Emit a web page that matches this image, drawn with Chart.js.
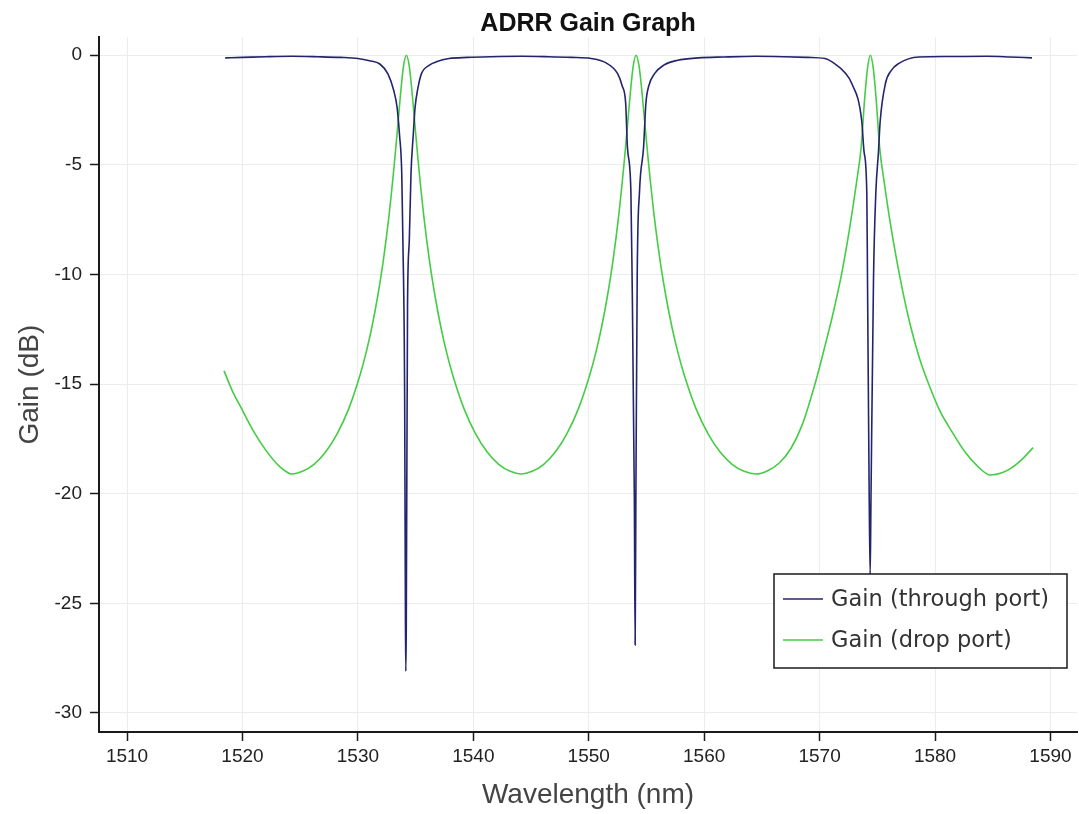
<!DOCTYPE html>
<html>
<head>
<meta charset="utf-8">
<script src="https://cdn.jsdelivr.net/npm/chart.js@4/dist/chart.umd.min.js"></script>
<style>
  html, body { margin: 0; padding: 0; background: #ffffff; }
  #wrap { position: relative; width: 1079px; height: 814px; }
</style>
</head>
<body>
<div id="wrap"><canvas id="c" width="1079" height="814"></canvas></div>
<script>
// ---- data ----
const chartTitle = 'ADRR Gain Graph';
const xTitle = 'Wavelength (nm)';
const yTitle = 'Gain (dB)';
const seriesNames = ['Gain (through port)', 'Gain (drop port)'];

const throughWavelength = [
  1518.5, 1520, 1522, 1524.3, 1526.5, 1528.5, 1530, 1531, 1531.9, 1532.6, 1533.1, 1533.4, 1533.6, 1533.8, 1533.9,
  1534.05, 1534.12, 1534.15, 1534.19, 1534.3, 1534.45, 1534.6, 1534.8, 1534.95, 1535.2, 1535.5, 1536.2, 1536.8, 1537.9,
  1539.5, 1541.5, 1544.2, 1546.5, 1548.5, 1550.2, 1551.5, 1552.5, 1552.9, 1553.2, 1553.35, 1553.65, 1553.75,
  1553.95, 1554.02, 1554.08, 1554.2, 1554.4, 1554.75, 1554.95, 1555.2, 1555.7, 1556.5, 1557.7, 1559.5, 1561.7,
  1564.5, 1567, 1569, 1570.45, 1571.3, 1572.2, 1572.8, 1573.65, 1573.85, 1574.09, 1574.15, 1574.3, 1574.38,
  1574.45, 1574.67, 1574.87, 1575.1, 1575.25, 1575.7, 1576.2, 1576.84, 1578.6, 1581, 1584.5, 1586.5, 1588.4
];
const throughGain = [
  -0.12, -0.1, -0.07, -0.05, -0.07, -0.1, -0.15, -0.25, -0.4, -0.85, -1.6, -2.4, -3.6, -5.4, -8.5,
  -15.5, -26.0, -28.1, -26.2, -11.4, -8.5, -5.4, -3.6, -2.4, -1.5, -0.85, -0.45, -0.3, -0.15,
  -0.1, -0.07, -0.05, -0.07, -0.1, -0.15, -0.35, -0.84, -1.4, -2.2, -4.2, -6.2, -9.9,
  -20.2, -26.9, -20.5, -10.0, -6.2, -4.2, -2.2, -1.4, -0.84, -0.45, -0.23, -0.12, -0.08,
  -0.05, -0.07, -0.1, -0.15, -0.38, -0.8, -1.3, -3.0, -4.4, -6.3, -10.2, -20.3, -23.7,
  -20.3, -10.2, -6.3, -4.4, -3.0, -1.3, -0.7, -0.38, -0.08, -0.06, -0.05, -0.08, -0.12
];

const dropWavelength = [
  1518.4, 1519.2, 1519.9, 1520.9, 1522.0, 1523.2, 1524.3, 1525.2, 1526.2, 1527.2, 1528.2, 1529.2,
  1530.2, 1530.7, 1531.2, 1531.7, 1532.2, 1532.7, 1533.2, 1533.45, 1533.7, 1533.95, 1534.2,
  1534.45, 1534.7, 1534.95, 1535.2, 1535.7, 1536.2, 1536.7, 1537.2, 1537.7, 1538.2, 1539.2,
  1540.2, 1541.2, 1542.2, 1543.2, 1544.15,
  1545.1, 1546.1, 1547.1, 1548.1, 1549.1, 1550.1, 1550.6, 1551.1, 1551.6, 1552.1, 1552.6,
  1553.1, 1553.35, 1553.6, 1553.85, 1554.1,
  1554.36, 1554.62, 1554.88, 1555.14, 1555.66, 1556.18, 1556.7, 1557.22, 1557.74, 1558.26,
  1559.3, 1560.34, 1561.38, 1562.42, 1563.46, 1564.5,
  1565.5, 1566.5, 1567.5, 1568.5, 1569.6, 1570.4, 1571.2, 1571.9, 1572.6, 1573.2, 1573.6,
  1573.9, 1574.15, 1574.4,
  1574.65, 1574.9, 1575.2, 1575.6, 1576.2, 1576.95, 1577.5, 1578.0, 1578.7, 1579.45, 1580.4,
  1581.5, 1582.6, 1583.7, 1584.8, 1585.8, 1586.7, 1587.6, 1588.5
];
const dropGain = [
  -14.4, -15.4, -16.1, -17.1, -18.0, -18.75, -19.10, -18.98, -18.66, -18.10, -17.27, -16.13,
  -14.56, -13.59, -12.43, -11.04, -9.37, -7.29, -4.71, -3.23, -1.74, -0.50, 0,
  -0.50, -1.74, -3.23, -4.71, -7.29, -9.37, -11.04, -12.43, -13.59, -14.56, -16.13,
  -17.27, -18.10, -18.66, -18.98, -19.10,
  -18.98, -18.66, -18.10, -17.27, -16.13, -14.56, -13.59, -12.43, -11.04, -9.37, -7.29,
  -4.71, -3.23, -1.74, -0.50, 0,
  -0.50, -1.74, -3.23, -4.71, -7.29, -9.37, -11.04, -12.43, -13.59, -14.56,
  -16.13, -17.27, -18.10, -18.66, -18.98, -19.10,
  -18.95, -18.6, -17.95, -16.85, -15.0, -13.4, -11.7, -10.0, -7.9, -5.8, -4.2,
  -2.0, -0.6, 0,
  -0.6, -2.0, -4.2, -5.8, -7.9, -10.1, -11.5, -12.6, -13.9, -15.0, -16.2,
  -17.2, -18.1, -18.75, -19.15, -19.05, -18.8, -18.4, -17.9
];

const xTicks = [1510, 1520, 1530, 1540, 1550, 1560, 1570, 1580, 1590];
const yTicks = [0, -5, -10, -15, -20, -25, -30];

// ---- build chart ----
function pairs(xs, ys) { return xs.map((x, i) => ({ x: x, y: ys[i] })); }

const boxLegend = {
  id: 'boxLegend',
  afterDraw(chart) {
    const ctx = chart.ctx;
    const a = chart.chartArea;
    const bx = a.right - 303, by = a.bottom - 158, bw = 293, bh = 94;
    ctx.save();
    ctx.fillStyle = '#ffffff';
    ctx.fillRect(bx, by, bw, bh);
    ctx.strokeStyle = '#1a1a1a';
    ctx.lineWidth = 1.5;
    ctx.strokeRect(bx, by, bw, bh);
    ctx.font = '22.5px "DejaVu Sans"';
    ctx.textBaseline = 'middle';
    ctx.textAlign = 'left';
    chart.data.datasets.forEach((ds, i) => {
      const y = by + 25 + i * 41;
      ctx.strokeStyle = ds.borderColor;
      ctx.lineWidth = 1.6;
      ctx.beginPath();
      ctx.moveTo(bx + 9, y);
      ctx.lineTo(bx + 49, y);
      ctx.stroke();
      ctx.fillStyle = '#333333';
      ctx.fillText(ds.label, bx + 57, y + 1);
    });
    ctx.restore();
  }
};

new Chart(document.getElementById('c'), {
  type: 'line',
  data: {
    datasets: [
      {
        label: seriesNames[0],
        data: pairs(throughWavelength, throughGain),
        borderColor: '#24246e',
        borderWidth: 1.6,
        pointRadius: 0,
        cubicInterpolationMode: 'monotone',
        fill: false
      },
      {
        label: seriesNames[1],
        data: pairs(dropWavelength, dropGain),
        borderColor: '#45cc45',
        borderWidth: 1.6,
        pointRadius: 0,
        cubicInterpolationMode: 'monotone',
        fill: false
      }
    ]
  },
  options: {
    responsive: false,
    animation: false,
    layout: { padding: { left: 0, right: 2, top: 0, bottom: 0 } },
    plugins: {
      legend: { display: false },
      tooltip: { enabled: false },
      title: {
        display: true,
        fullSize: false,
        text: chartTitle,
        color: '#111111',
        font: { family: '"Liberation Sans", Arial, sans-serif', size: 25, weight: 'bold', lineHeight: 1.05 },
        padding: { top: 11, bottom: 0 }
      }
    },
    scales: {
      x: {
        type: 'linear',
        min: 1507.57,
        max: 1592.3,
        afterFit(scale) { scale.height = 82; },
        afterBuildTicks(scale) { scale.ticks = xTicks.map(v => ({ value: v })); },
        ticks: { includeBounds: false, stepSize: 10, padding: 4, color: '#222222',
          callback: (v) => String(v),
          font: { family: '"Liberation Sans", sans-serif', size: 19 } },
        grid: { color: '#ececec', lineWidth: 1, tickLength: 9, tickColor: '#1a1a1a', tickWidth: 1.5 },
        border: { color: '#1a1a1a', width: 2 },
        title: { display: true, text: xTitle, color: '#444444', padding: { top: 0, bottom: 2 },
          font: { family: '"Liberation Sans", sans-serif', size: 28, lineHeight: 1.2 } }
      },
      y: {
        type: 'linear',
        min: -30.87,
        max: 0.82,
        afterFit(scale) { scale.width = 99; },
        afterBuildTicks(scale) { scale.ticks = yTicks.map(v => ({ value: v })); },
        ticks: { includeBounds: false, stepSize: 5, padding: 8, color: '#222222',
          callback: (v) => String(v),
          font: { family: '"Liberation Sans", sans-serif', size: 19 } },
        grid: { color: '#ececec', lineWidth: 1, tickLength: 9, tickColor: '#1a1a1a', tickWidth: 1.5 },
        border: { color: '#1a1a1a', width: 2 },
        title: { display: true, text: yTitle, color: '#444444', padding: { top: 13, bottom: 0 },
          font: { family: '"Liberation Sans", sans-serif', size: 28, lineHeight: 1.2 } }
      }
    }
  },
  plugins: [boxLegend]
});
</script>
</body>
</html>
